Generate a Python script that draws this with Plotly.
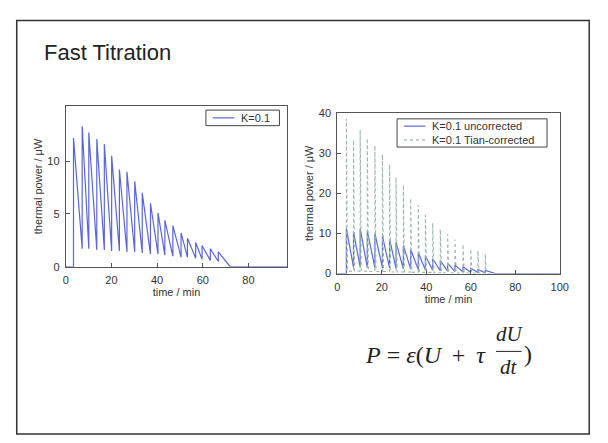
import plotly.graph_objects as go

# ---- data ----
# left panel, K=0.1
left_inj = [3.4, 7.2, 10.1, 13.6, 16.9, 20.1, 23.5, 26.8, 30.2, 33.5,
            37.1, 40.4, 43.4, 46.9, 50.5, 53.3, 56.9, 59.7, 63.3, 66.8]
left_peak = [12.2, 13.3, 12.7, 12.1, 11.6, 10.5, 9.2, 9.0, 8.1, 7.0,
             6.0, 5.1, 4.4, 3.9, 3.2, 2.7, 2.3, 2.0, 1.7, 1.4]
left_trough = [1.7, 1.7, 1.6, 1.6, 1.5, 1.5, 1.4, 1.4, 1.3, 1.2,
               1.2, 1.1, 1.0, 0.9, 0.9, 0.8, 0.7, 0.6, 0.5, 0.0]
left_end = [72.0, 97.0]

# right panel, uncorrected vs Tian-corrected
right_inj = [4.1, 7.3, 10.3, 13.5, 16.9, 20.3, 23.5, 26.4, 29.7, 33.0,
             36.4, 39.6, 42.9, 46.3, 49.6, 52.9, 56.5, 60.0, 63.2, 66.5]
unc_peak = [11.2, 10.4, 11.2, 10.6, 10.0, 9.3, 8.6, 7.8, 7.0, 6.0,
            5.2, 4.4, 3.7, 3.2, 2.6, 2.1, 1.7, 1.3, 1.0, 0.8]
unc_trough = [1.6, 1.6, 1.5, 1.5, 1.4, 1.4, 1.3, 1.2, 1.1, 1.0,
              0.9, 0.8, 0.7, 0.6, 0.5, 0.4, 0.3, 0.3, 0.2, 0.0]
tian_peak = [38.6, 33.3, 35.8, 33.7, 31.9, 29.7, 27.2, 24.0, 22.1, 18.7,
             17.1, 14.6, 12.6, 11.0, 9.8, 8.5, 7.3, 6.1, 5.7, 4.9]
tian_base = [0.6, 0.6, 0.6, 0.5, 0.5, 0.5, 0.4, 0.4, 0.4, 0.3,
             0.3, 0.3, 0.2, 0.2, 0.2, 0.1, 0.1, 0.1, 0.1, 0.0]
right_end = [71.0, 100.0]

SPIKE_W = 0.5  # width of the corrected spikes, minutes

LEFT_COL = "#5a66d6"
UNC_COL = "#5a6ad6"
TIAN_COL = "#98b8aa"


def sawtooth(inj, peak, trough, end):
    xs, ys = [0, inj[0]], [0, 0]
    for i in range(len(inj)):
        xs += [inj[i], inj[i + 1] if i + 1 < len(inj) else end[0]]
        ys += [peak[i], trough[i]]
        if i + 1 < len(inj):
            xs.append(inj[i + 1])
            ys.append(trough[i])
    xs.append(end[1])
    ys.append(0)
    return xs, ys


def spikes(inj, peak, base, end):
    xs, ys = [0, inj[0]], [0, 0]
    for i in range(len(inj)):
        xs += [inj[i], inj[i] + SPIKE_W]
        ys += [peak[i], base[i]]
        nxt = inj[i + 1] if i + 1 < len(inj) else end[0]
        xs.append(nxt)
        ys.append(base[i])
    xs.append(end[1])
    ys.append(0)
    return xs, ys


fig = go.Figure()

lx, ly = sawtooth(left_inj, left_peak, left_trough, left_end)
fig.add_trace(go.Scatter(x=lx, y=ly, mode="lines", name="K=0.1",
                         line=dict(color=LEFT_COL, width=1.2),
                         xaxis="x", yaxis="y"))

tx, ty = spikes(right_inj, tian_peak, tian_base, right_end)
ux, uy = sawtooth(right_inj, unc_peak, unc_trough, right_end)
fig.add_trace(go.Scatter(x=ux, y=uy, mode="lines", name="K=0.1 uncorrected",
                         line=dict(color=UNC_COL, width=1.2),
                         xaxis="x2", yaxis="y2"))
fig.add_trace(go.Scatter(x=tx, y=ty, mode="lines", name="K=0.1 Tian-corrected",
                         line=dict(color=TIAN_COL, width=1.1, dash="dot"),
                         xaxis="x2", yaxis="y2"))

W, H = 608, 443


def px(x):
    return x / W


def py(y):
    return 1 - y / H


axis_style = dict(showline=True, mirror=True, linecolor="#555", linewidth=1,
                  ticks="inside", ticklen=4, tickcolor="#555",
                  showgrid=False, zeroline=False, ticklabelstandoff=3,
                  tickfont=dict(family="Liberation Sans", size=11, color="#333"),
                  title_font=dict(family="Liberation Sans", size=11, color="#333"))

fig.update_layout(
    width=W, height=H,
    margin=dict(l=0, r=0, t=0, b=0),
    paper_bgcolor="white", plot_bgcolor="white",
    font=dict(family="Liberation Sans", color="#333"),
    showlegend=False,
    xaxis=dict(domain=[px(64), px(290)], range=[0, 97], anchor="y",
               tickvals=[0, 20, 40, 60, 80],
               title=dict(text="time / min", standoff=1), **axis_style),
    yaxis=dict(domain=[py(268), py(103)], range=[0, 15.2], anchor="x",
               tickvals=[0, 5, 10],
               title=dict(text="thermal power / \u03bcW", standoff=2), **axis_style),
    xaxis2=dict(domain=[px(341), px(568)], range=[0, 100], anchor="y2",
                tickvals=[0, 20, 40, 60, 80, 100],
                title=dict(text="time / min", standoff=1), **axis_style),
    yaxis2=dict(domain=[py(275), py(110)], range=[0, 40], anchor="x2",
                tickvals=[0, 10, 20, 30, 40],
                title=dict(text="thermal power / \u03bcW", standoff=2), **axis_style),
)

# compact MATLAB-style legend boxes
legend_font = dict(family="Liberation Sans", size=11, color="#333")


def legend_box(x0, x1, y0, y1, entries):
    fig.add_shape(type="rect", xref="paper", yref="paper",
                  x0=px(x0), x1=px(x1), y0=py(y1), y1=py(y0),
                  line=dict(color="#444", width=1), fillcolor="white")
    for yy, label, col, dash in entries:
        fig.add_shape(type="line", xref="paper", yref="paper",
                      x0=px(x0 + 7), x1=px(x0 + 29), y0=py(yy), y1=py(yy),
                      line=dict(color=col, width=1.2, dash=dash))
        fig.add_annotation(text=label, xref="paper", yref="paper",
                           x=px(x0 + 34), y=py(yy), xanchor="left",
                           yanchor="middle", showarrow=False, font=legend_font)


legend_box(207, 282, 107, 123, [(115, "K=0.1", LEFT_COL, "solid")])
legend_box(402, 555, 116, 145,
           [(123.5, "K=0.1 uncorrected", UNC_COL, "solid"),
            (137.5, "K=0.1 Tian-corrected", TIAN_COL, "dot")])

# slide frame
fig.add_shape(type="rect", xref="paper", yref="paper",
              x0=px(14), x1=px(598), y0=py(440), y1=py(15),
              line=dict(color="#333", width=1.5))

# slide title
fig.add_annotation(text="Fast Titration", xref="paper", yref="paper",
                   x=px(40), y=py(48), xanchor="left", yanchor="middle",
                   showarrow=False,
                   font=dict(family="Liberation Sans", size=22, color="#222"))

# Tian equation
eq_font = dict(family="Liberation Serif", size=24, color="#222")
fr_font = dict(family="Liberation Serif", size=21, color="#222")
fig.add_annotation(text="<i>P</i> = <i>\u03b5</i>(<i>U</i> \u2009+\u2009 <i>\u03c4</i>",
                   xref="paper", yref="paper", x=px(367), y=py(359),
                   xanchor="left", yanchor="middle", showarrow=False, font=eq_font)
fig.add_annotation(text="<i>dU</i>", xref="paper", yref="paper",
                   x=px(517), y=py(337), xanchor="center", yanchor="middle",
                   showarrow=False, font=fr_font)
fig.add_annotation(text="<i>dt</i>", xref="paper", yref="paper",
                   x=px(516), y=py(371), xanchor="center", yanchor="middle",
                   showarrow=False, font=fr_font)
fig.add_annotation(text=")", xref="paper", yref="paper",
                   x=px(536), y=py(358), xanchor="center", yanchor="middle",
                   showarrow=False, font=eq_font)
fig.add_shape(type="line", xref="paper", yref="paper",
              x0=px(503), x1=px(529), y0=py(355), y1=py(355),
              line=dict(color="#222", width=1))

# drop the default page margin so the figure sits at the window origin
fig.write_html("out.html", config={"displayModeBar": False},
               post_script="document.body.style.margin='0';")
